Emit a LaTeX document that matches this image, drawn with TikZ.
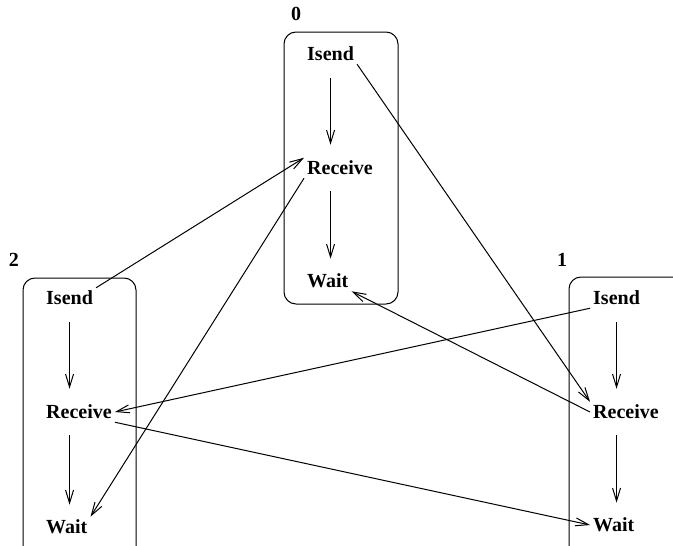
\documentclass[tikz,border=0pt]{standalone}
\usepackage{fontspec}
\setmainfont{Liberation Serif}
\usetikzlibrary{arrows.meta}
\begin{document}
\begin{tikzpicture}[x=1pt,y=-1pt,
  lbl/.style={font=\fontsize{20}{24}\selectfont\bfseries, inner sep=3pt, anchor=west},
  num/.style={font=\fontsize{20}{24}\selectfont\bfseries, inner sep=0pt},
  proc/.style={draw, line width=1pt, rounded corners=12pt},
  arr/.style={line width=1pt, -{Straight Barb[length=13pt,width=8pt,line width=1pt]}}
]
\useasboundingbox (0,0) rectangle (673,546);
\clip (0,0) rectangle (673,546);
% boxes
\draw[proc] (284,32) rectangle (398,304);
\draw[proc] (23,278) rectangle (136,580);
\draw[proc] (569,277) rectangle (700,580);
% labels
\node[num] (n0) at (296,14) {0};
\node[num] (n2) at (14,260) {2};
\node[num] (n1) at (562,260) {1};
% process 0
\node[lbl] (i0) at (304,54) {Isend};
\node[lbl] (r0) at (304,168) {Receive};
\node[lbl] (w0) at (304,281) {Wait};
% process 2
\node[lbl] (i2) at (43,298) {Isend};
\node[lbl] (r2) at (43,412) {Receive};
\node[lbl] (w2) at (43,527) {Wait};
% process 1
\node[lbl] (i1) at (590,298) {Isend};
\node[lbl] (r1) at (590,412) {Receive};
\node[lbl] (w1) at (590,525) {Wait};
% vertical arrows
\draw[arr, shorten <=14pt, shorten >=13pt] (i0.south) -- (i0.south |- r0.north);
\draw[arr, shorten <=13pt, shorten >=12pt] (i0.south |- r0.south) -- (i0.south |- w0.north);
\draw[arr, shorten <=14pt, shorten >=13pt] (i2.south) -- (i2.south |- r2.north);
\draw[arr, shorten <=13pt, shorten >=12pt] (i2.south |- r2.south) -- (i2.south |- w2.north);
\draw[arr, shorten <=14pt, shorten >=13pt] (i1.south) -- (i1.south |- r1.north);
\draw[arr, shorten <=13pt, shorten >=12pt] (i1.south |- r1.south) -- (i1.south |- w1.north);
% cross arrows
\draw[arr] (i0.south east) -- (r1.north west);
\draw[arr] (i2.north east) -- (r0.north west);
\draw[arr] (r0.south west) -- (w2.north east);
\draw[arr] (r1.west) -- (w0.south east);
\draw[arr] (i1.south west) -- (r2.east);
\draw[arr] (r2.south east) -- (w1.west);
\end{tikzpicture}
\end{document}
